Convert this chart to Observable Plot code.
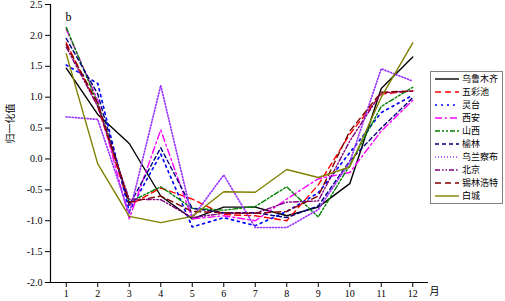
<!DOCTYPE html>
<html>
<head>
<meta charset="utf-8">
<script src="https://cdn.jsdelivr.net/npm/d3@7"></script>
<script src="https://cdn.jsdelivr.net/npm/@observablehq/plot@0.6"></script>
<style>
  body { margin: 0; background: #fff; }
  #wrap { position: relative; width: 505px; height: 301px; }
  #legend { position: absolute; left: 0; top: 0; }
</style>
</head>
<body>
<div id="wrap"></div>
<script>
const months = [1, 2, 3, 4, 5, 6, 7, 8, 9, 10, 11, 12];
const yTicks = [-2.0, -1.5, -1.0, -0.5, 0.0, 0.5, 1.0, 1.5, 2.0, 2.5];
const seriesNames = ["乌鲁木齐", "五彩池", "灵台", "西安", "山西", "榆林", "乌兰察布", "北京", "锡林浩特", "白城"];
const seriesColors = ["#000000", "#ff0000", "#0000ff", "#ff00ff", "#008000", "#000080", "#9933ff", "#800080", "#800000", "#808000"];
const seriesDashes = ["none", "6,4", "2,4", "7,3,2,3", "5,2,2,2,2,2", "4,3", "1,2", "5,2,1.5,2,1.5,2", "6,4", "none"];

const urumqi     = [1.47, 0.72, 0.25, -0.60, -0.97, -0.78, -0.78, -0.92, -0.78, -0.40, 1.14, 1.65];
const wucaichi   = [1.88, 0.85, -0.75, -0.47, -0.65, -0.90, -0.92, -1.00, -0.42, 0.40, 1.05, 1.10];
const lingtai    = [1.52, 1.22, -0.85, 0.08, -1.10, -0.95, -1.08, -0.85, -0.55, 0.10, 0.75, 1.03];
const xian       = [2.10, 0.95, -0.97, 0.47, -0.97, -0.92, -1.00, -0.65, -0.32, -0.22, 0.45, 0.95];
const shanxi     = [2.13, 0.90, -0.70, -0.45, -0.80, -0.83, -0.77, -0.45, -0.94, -0.10, 0.85, 1.16];
const yulin      = [1.95, 1.05, -0.75, 0.18, -0.80, -0.87, -0.87, -0.95, -0.76, -0.03, 0.50, 0.99];
const wulanchabu = [0.68, 0.64, -0.89, 1.19, -0.95, -0.26, -1.11, -1.11, -0.82, -0.05, 1.46, 1.26];
const beijing    = [1.81, 0.85, -0.65, -0.66, -0.95, -0.88, -0.88, -0.70, -0.68, 0.29, 1.07, 1.10];
const xilinhot   = [1.85, 0.90, -0.70, -0.60, -0.85, -0.87, -0.88, -0.85, -0.60, 0.45, 1.08, 1.10];
const baicheng   = [1.70, -0.08, -0.93, -1.03, -0.93, -0.53, -0.54, -0.17, -0.30, -0.13, 1.00, 1.88];

const seriesValues = [urumqi, wucaichi, lingtai, xian, shanxi, yulin, wulanchabu, beijing, xilinhot, baicheng];

const serif = "'Liberation Serif', 'Times New Roman', serif";
const cjk = "'Noto Sans CJK SC', sans-serif";
const widthFor = i => (seriesDashes[i] === "2,4" || seriesDashes[i] === "1,2") ? 1.7 : 1.4;

const lineMarks = seriesNames.map((name, i) => {
  const data = months.map((m, j) => ({month: m, value: seriesValues[i][j]}));
  return Plot.line(data, {
    x: "month", y: "value",
    stroke: seriesColors[i],
    strokeDasharray: seriesDashes[i] === "none" ? null : seriesDashes[i],
    strokeWidth: widthFor(i)
  });
});

const chart = Plot.plot({
  width: 505,
  height: 301,
  marginLeft: 50,
  marginRight: 77,
  marginTop: 4,
  marginBottom: 19,
  style: {fontFamily: serif, fontSize: "10px", color: "#000", background: "#fff"},
  x: {domain: [0.5, 12.5]},
  y: {domain: [yTicks[0], yTicks[yTicks.length - 1]]},
  marks: [
    Plot.axisX({ticks: months, tickSize: 5, tickPadding: 2, tickFormat: d => String(d), label: null, fontSize: 10}),
    Plot.axisY({ticks: yTicks, tickSize: 5, tickPadding: 3, tickFormat: d => d.toFixed(1), label: null, fontSize: 10}),
    Plot.ruleY([yTicks[0]], {stroke: "#000", strokeWidth: 1.2}),
    Plot.ruleX([0.5], {stroke: "#000", strokeWidth: 1.2}),
    ...lineMarks,
    Plot.text(["b"], {frameAnchor: "top-left", dx: 15, dy: 8, textAnchor: "start", fontSize: 12, fontFamily: serif}),
    Plot.text(["月"], {frameAnchor: "bottom-right", dx: 1, dy: 12, textAnchor: "start", fontSize: 10, fontFamily: cjk}),
    Plot.text(["归一化值"], {frameAnchor: "left", dx: -40, rotate: -90, fontSize: 10, fontFamily: cjk})
  ]
});

const wrap = document.getElementById("wrap");
wrap.appendChild(chart);

// legend
const rowH = 13;
const lg = d3.select(wrap).append("svg")
  .attr("id", "legend")
  .attr("width", 505).attr("height", 301);
lg.append("rect")
  .attr("x", 430.5).attr("y", 71.5).attr("width", 72).attr("height", 10 * rowH + 2)
  .attr("fill", "#fff").attr("stroke", "#808080").attr("stroke-width", 1);
seriesNames.forEach((name, i) => {
  const cy = 79 + i * rowH;
  lg.append("line")
    .attr("x1", 435).attr("x2", 459).attr("y1", cy).attr("y2", cy)
    .attr("stroke", seriesColors[i])
    .attr("stroke-width", widthFor(i))
    .attr("stroke-dasharray", seriesDashes[i] === "none" ? null : seriesDashes[i]);
  lg.append("text")
    .attr("x", 462).attr("y", cy).attr("dy", "0.35em")
    .attr("font-family", cjk).attr("font-size", 9)
    .text(name);
});
</script>
</body>
</html>
